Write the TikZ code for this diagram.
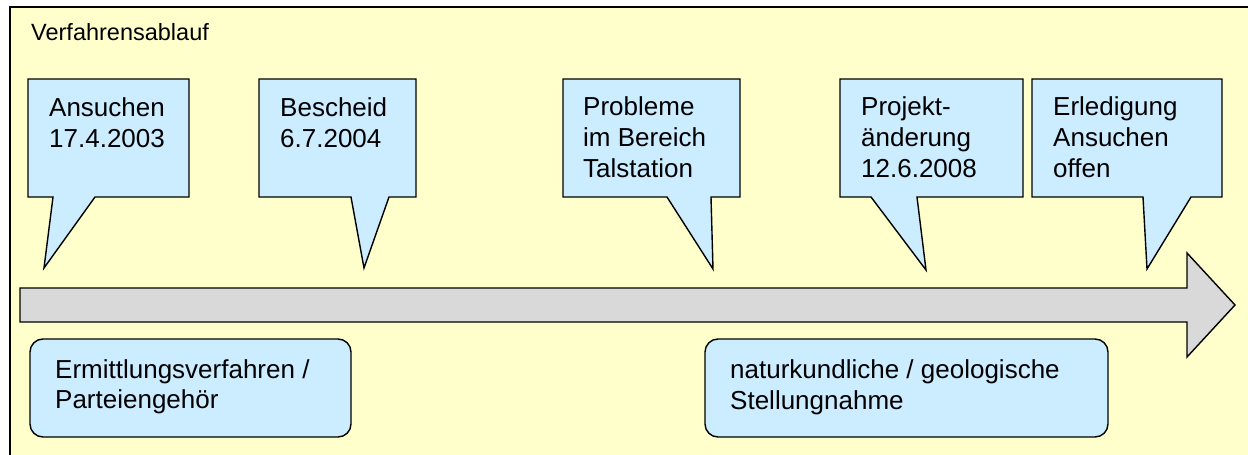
\documentclass[tikz,border=0pt]{standalone}
\usepackage{fontspec}
\setmainfont{Liberation Sans}
\definecolor{bgyellow}{HTML}{FFFFCC}
\definecolor{cblue}{HTML}{CCECFF}
\definecolor{agray}{HTML}{D9D9D9}
\tikzset{
  callout/.style={draw=black, fill=cblue, line width=1.4pt, line join=miter},
  boxr/.style={draw=black, fill=cblue, line width=1.4pt, rounded corners=13pt},
  ctext/.style={inner sep=0pt, anchor=base west, align=left, font=\fontsize{26}{31}\selectfont},
  btext/.style={inner sep=0pt, anchor=base west, align=left, font=\fontsize{26}{30.5}\selectfont},
  timeline/.style={draw=black, fill=agray, line width=1.4pt, line join=miter}
}
\begin{document}
\begin{tikzpicture}[x=1pt,y=-1pt]
\useasboundingbox (0,0) rectangle (1248,455);
\clip (0,0) rectangle (1248,455);
% frame
\path[draw=black, fill=bgyellow, line width=2pt] (10,7) rectangle (1270,480);
\node[inner sep=0pt, anchor=base west, font=\fontsize{23.5}{28}\selectfont] (title) at (31,40) {Verfahrensablauf};
% timeline arrow
\path[timeline] (20,288) -- (1187,288) -- (1187,253) -- (1235,305) -- (1187,357) -- (1187,322) -- (20,322) -- cycle;
\coordinate (arrowtip) at (1235,305);
% callouts (node base = baseline of last line)
\path[callout] (28,79) -- (189,79) -- (189,197) -- (95,197) -- (44,268) -- (53,197) -- (28,197) -- cycle;
\node[ctext] (c1) at (49,147) {Ansuchen\\17.4.2003};
\path[callout] (259,79) -- (416,79) -- (416,197) -- (389,197) -- (364,268) -- (351,197) -- (259,197) -- cycle;
\node[ctext] (c2) at (280,147) {Bescheid\\6.7.2004};
\path[callout] (563,79) -- (740,79) -- (740,197) -- (711,197) -- (713,269) -- (667,197) -- (563,197) -- cycle;
\node[ctext] (c3) at (583,177) {Probleme\\im Bereich\\Talstation};
\path[callout] (840,79) -- (1023,79) -- (1023,197) -- (917,197) -- (926,270) -- (871,197) -- (840,197) -- cycle;
\node[ctext] (c4) at (861,177) {Projekt-\\änderung\\12.6.2008};
\path[callout] (1032,79) -- (1222,79) -- (1222,197) -- (1191,197) -- (1147,269) -- (1143,197) -- (1032,197) -- cycle;
\node[ctext] (c5) at (1053,177) {Erledigung\\Ansuchen\\offen};
% bottom boxes
\path[boxr] (30,339) rectangle (351,437);
\node[btext] (b1) at (55,408.5) {Ermittlungsverfahren /\\Parteiengehör};
\path[boxr] (705,339) rectangle (1108,437);
\node[btext] (b2) at (730,409) {naturkundliche / geologische\\Stellungnahme};
\end{tikzpicture}
\end{document}
